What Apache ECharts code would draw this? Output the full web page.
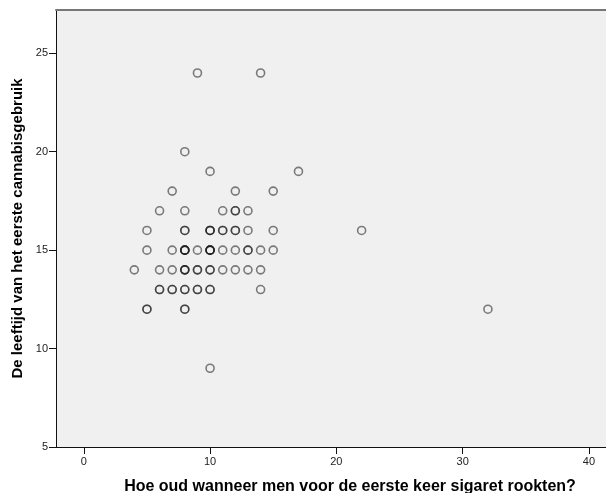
<!DOCTYPE html>
<html>
<head>
<meta charset="utf-8">
<script src="https://cdn.jsdelivr.net/npm/echarts@6/dist/echarts.min.js"></script>
<style>
  html, body { margin: 0; padding: 0; background: #ffffff; }
  #chart { width: 606px; height: 493px; }
</style>
</head>
<body>
<div id="chart"></div>
<script>
// Leeftijd eerste sigaret (x) en eerste cannabisgebruik (y), één paar per respondent.
// Herhaalde paren vallen samen en kleuren daardoor donkerder.
const ageSigaret = [
  9, 14,
  8,
  10, 17,
  7, 12, 15,
  6, 8, 11, 12, 12, 13,
  5, 8, 8, 10, 10, 10, 11, 11, 12, 12, 13, 15, 22,
  5, 7, 8, 8, 8, 8, 9, 10, 10, 10, 10, 11, 12, 13, 13, 14, 15,
  4, 6, 7, 8, 8, 8, 9, 9, 10, 10, 11, 12, 13, 14,
  6, 6, 7, 7, 8, 8, 9, 9, 10, 10, 14,
  5, 5, 8, 8, 32,
  10
];
const ageCannabis = [
  24, 24,
  20,
  19, 19,
  18, 18, 18,
  17, 17, 17, 17, 17, 17,
  16, 16, 16, 16, 16, 16, 16, 16, 16, 16, 16, 16, 16,
  15, 15, 15, 15, 15, 15, 15, 15, 15, 15, 15, 15, 15, 15, 15, 15, 15,
  14, 14, 14, 14, 14, 14, 14, 14, 14, 14, 14, 14, 14, 14,
  13, 13, 13, 13, 13, 13, 13, 13, 13, 13, 13,
  12, 12, 12, 12, 12,
  9
];
const xTicks = [0, 10, 20, 30, 40];
const yTicks = [5, 10, 15, 20, 25];
const xTitle = 'Hoe oud wanneer men voor de eerste keer sigaret rookten?';
const yTitle = 'De leeftijd van het eerste cannabisgebruik';

const points = ageSigaret.map((x, i) => [x, ageCannabis[i]]);

const chart = echarts.init(document.getElementById('chart'), null, { renderer: 'canvas' });
const fam = 'Liberation Sans, Arial, sans-serif';
const labelFont = { fontFamily: fam, fontSize: 11, color: '#222' };

chart.setOption({
  animation: false,
  backgroundColor: '#ffffff',
  grid: {
    left: 56, right: 0, top: 10, bottom: 46,
    outerBoundsMode: 'none',
    containLabel: false,
    show: true, backgroundColor: '#f0f0f0', borderWidth: 0
  },
  xAxis: [{
    type: 'value', min: -2.2, max: 41.35,
    splitLine: { show: false },
    axisLine: { show: true, onZero: false, lineStyle: { color: '#111', width: 1 } },
    axisTick: { show: true, length: 7, customValues: xTicks, lineStyle: { color: '#111' } },
    axisLabel: Object.assign({ margin: 9, customValues: xTicks }, labelFont),
    name: xTitle, nameLocation: 'middle', nameGap: 32,
    nameTextStyle: { fontFamily: fam, fontSize: 16, fontWeight: 'bold', color: '#000', padding: [0, 0, 0, 38] }
  }, {
    type: 'value', min: -2.2, max: 41.35, position: 'top',
    axisLine: { show: true, lineStyle: { color: '#777', width: 2 } },
    axisTick: { show: false }, axisLabel: { show: false }, splitLine: { show: false }
  }],
  yAxis: {
    type: 'value', min: 5, max: 27.2,
    splitLine: { show: false },
    axisLine: { show: true, onZero: false, lineStyle: { color: '#111', width: 1 } },
    axisTick: { show: true, length: 7, customValues: yTicks, lineStyle: { color: '#111' } },
    axisLabel: Object.assign({ margin: 8, customValues: yTicks }, labelFont),
    name: yTitle, nameLocation: 'middle', nameGap: 27, nameRotate: 90,
    nameTextStyle: { fontFamily: fam, fontSize: 15, fontWeight: 'bold', color: '#000' }
  },
  series: [{
    type: 'scatter',
    xAxisIndex: 0,
    data: points,
    symbol: 'circle',
    symbolSize: 8,
    itemStyle: {
      color: 'rgba(0,0,0,0)',
      borderColor: 'rgba(20,20,20,0.68)',
      borderWidth: 1.6
    },
    emphasis: { disabled: true }
  }]
});
</script>
</body>
</html>
